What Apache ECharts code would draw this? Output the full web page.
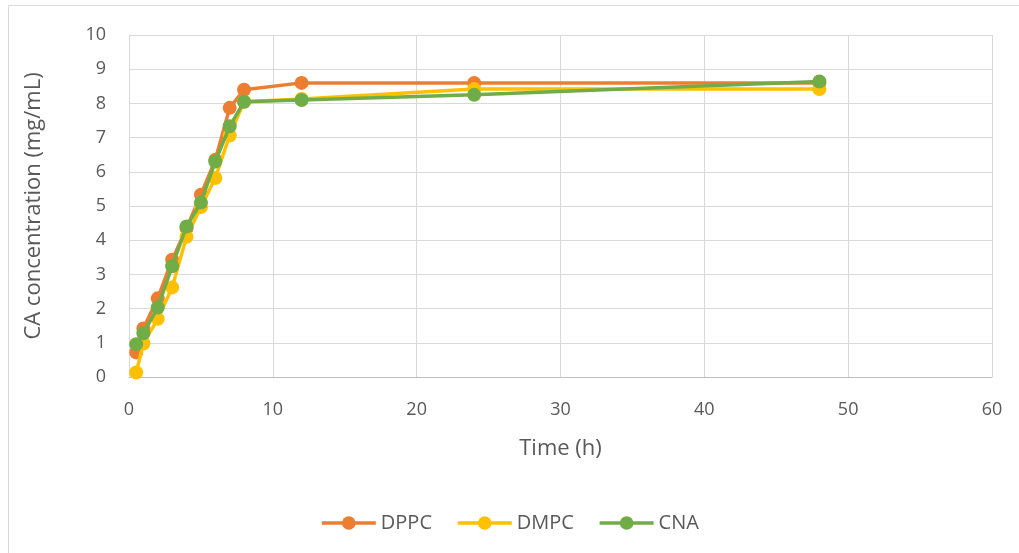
<!DOCTYPE html>
<html>
<head>
<meta charset="utf-8">
<script src="https://cdn.jsdelivr.net/npm/echarts@6/dist/echarts.min.js"></script>
<style>
html,body{margin:0;padding:0;background:#fff;}
#chart{width:1019px;height:553px;}
</style>
</head>
<body>
<div id="chart"></div>
<script>
const times = [0.5, 1, 2, 3, 4, 5, 6, 7, 8, 12, 24, 48];
const dppc = [0.72, 1.42, 2.30, 3.43, 4.35, 5.33, 6.35, 7.87, 8.40, 8.60, 8.60, 8.60];
const dmpc = [0.13, 0.98, 1.70, 2.62, 4.10, 4.97, 5.82, 7.06, 8.05, 8.13, 8.42, 8.42];
const cna  = [0.96, 1.28, 2.03, 3.24, 4.40, 5.10, 6.30, 7.33, 8.05, 8.10, 8.25, 8.64];
const seriesNames = ['DPPC', 'DMPC', 'CNA'];
const seriesColors = ['#ED7D31', '#FFC000', '#70AD47'];
const seriesData = [dppc, dmpc, cna];

const font = '"Open Sans", Lato, sans-serif';
const chart = echarts.init(document.getElementById('chart'));
chart.setOption({
  animation: false,
  backgroundColor: '#fff',
  graphic: [{
    type: 'rect',
    shape: {x: 8.5, y: 5.5, width: 1200, height: 800},
    style: {fill: 'none', stroke: '#d9d9d9', lineWidth: 1},
    silent: true, z: -10
  }],
  grid: {left: 129, right: 27, top: 35, bottom: 176, containLabel: false},
  legend: {
    bottom: 15,
    left: 'center',
    itemWidth: 54,
    itemHeight: 17,
    itemGap: 24,
    lineStyle: {width: 3.5},
    textStyle: {fontFamily: font, fontSize: 20, color: '#595959'},
    data: seriesNames
  },
  xAxis: {
    type: 'value', min: 0, max: 60, interval: 10,
    name: 'Time (h)', nameLocation: 'middle', nameGap: 61,
    nameTextStyle: {fontFamily: font, fontSize: 22, color: '#595959'},
    axisLine: {show: true, lineStyle: {color: '#bfbfbf', width: 1}},
    axisTick: {show: false},
    axisLabel: {fontFamily: font, fontSize: 18, color: '#595959', margin: 24},
    splitLine: {show: true, lineStyle: {color: '#d9d9d9', width: 1}}
  },
  yAxis: {
    type: 'value', min: 0, max: 10, interval: 1,
    name: 'CA concentration (mg/mL)', nameLocation: 'middle', nameGap: 84,
    nameTextStyle: {fontFamily: font, fontSize: 22, color: '#595959'},
    axisLine: {show: true, lineStyle: {color: '#d9d9d9', width: 1}},
    axisTick: {show: false},
    axisLabel: {fontFamily: font, fontSize: 18, color: '#595959', margin: 23},
    splitLine: {show: true, lineStyle: {color: '#d9d9d9', width: 1}}
  },
  series: seriesNames.map((n, i) => ({
    name: n,
    type: 'line',
    data: times.map((t, j) => [t, seriesData[i][j]]),
    color: seriesColors[i],
    symbol: 'circle',
    symbolSize: 14,
    showAllSymbol: true,
    lineStyle: {width: 3.5, color: seriesColors[i]},
    itemStyle: {color: seriesColors[i]},
    z: 2 + i
  }))
});
</script>
</body>
</html>
